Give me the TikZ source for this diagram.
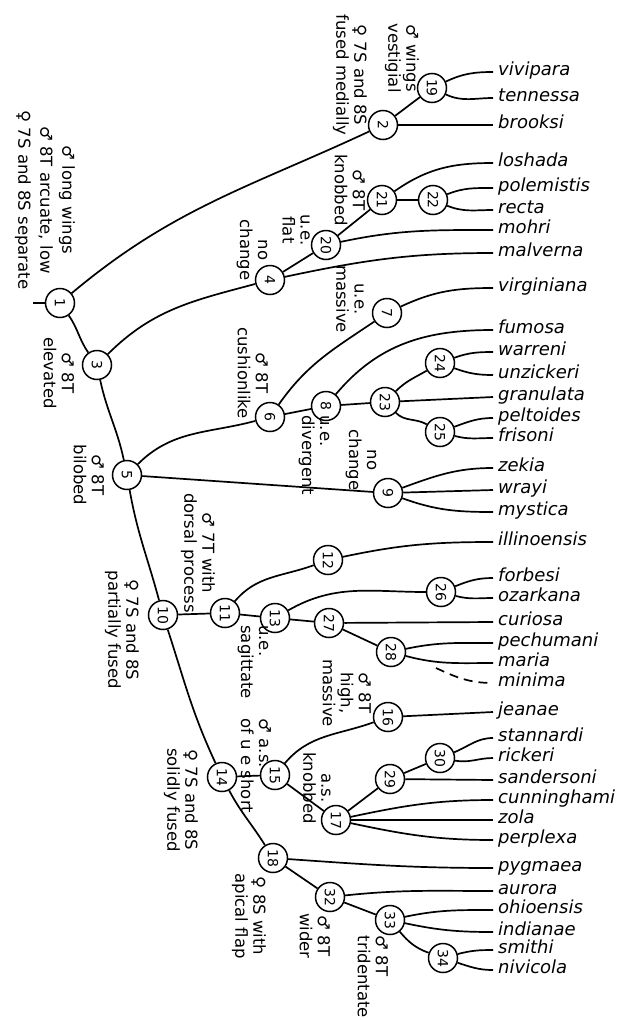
\documentclass[tikz,border=0pt]{standalone}
\usepackage{fontspec}
\setmainfont{DejaVu Sans}[ItalicFont={DejaVu Sans Oblique}]

% circle numbers read top to bottom, the circle itself stays unrotated
\newcommand{\rotnum}[1]{\rotatebox{-90}{#1}}

\begin{document}
\begin{tikzpicture}[
    x=1pt, y=1pt,
    taxon/.style  ={circle, draw=black, line width=1.5pt, fill=white,
                    minimum size=29pt, inner sep=0pt,
                    font=\fontsize{14}{14}\selectfont},
    leaf/.style   ={anchor=west, inner sep=5pt, text height=1.1ex, text depth=0pt,
                    font=\fontsize{18}{18}\selectfont\itshape},
    note/.style   ={rotate=-90, align=center, inner sep=0pt,
                    font=\fontsize{16.5}{18}\selectfont},
    branch/.style ={line width=1.7pt},
  ]

  % ---- frame of the page ----
  \useasboundingbox (0,0) rectangle (630,-1020);

  % ---- inner nodes of the tree ----
  \node[taxon] (n1)  at (60,-303)  {\rotnum{1}};
  \node[taxon] (n2)  at (383,-125) {\rotnum{2}};
  \node[taxon] (n3)  at (97,-365)  {\rotnum{3}};
  \node[taxon] (n4)  at (270,-280) {\rotnum{4}};
  \node[taxon] (n5)  at (127,-475) {\rotnum{5}};
  \node[taxon] (n6)  at (270,-417) {\rotnum{6}};
  \node[taxon] (n7)  at (387,-313) {\rotnum{7}};
  \node[taxon] (n8)  at (326,-406) {\rotnum{8}};
  \node[taxon] (n9)  at (388,-493) {\rotnum{9}};
  \node[taxon] (n10) at (163,-615) {\rotnum{10}};
  \node[taxon] (n11) at (225,-613) {\rotnum{11}};
  \node[taxon] (n12) at (328,-560) {\rotnum{12}};
  \node[taxon] (n13) at (275,-618) {\rotnum{13}};
  \node[taxon] (n14) at (222,-777) {\rotnum{14}};
  \node[taxon] (n15) at (275,-775) {\rotnum{15}};
  \node[taxon] (n16) at (388,-717) {\rotnum{16}};
  \node[taxon] (n17) at (336,-820) {\rotnum{17}};
  \node[taxon] (n18) at (273,-858) {\rotnum{18}};
  \node[taxon] (n19) at (432,-88)  {\rotnum{19}};
  \node[taxon] (n20) at (326,-245) {\rotnum{20}};
  \node[taxon] (n21) at (382,-200) {\rotnum{21}};
  \node[taxon] (n22) at (433,-200) {\rotnum{22}};
  \node[taxon] (n23) at (385,-402) {\rotnum{23}};
  \node[taxon] (n24) at (440,-363) {\rotnum{24}};
  \node[taxon] (n25) at (440,-432) {\rotnum{25}};
  \node[taxon] (n26) at (441,-592) {\rotnum{26}};
  \node[taxon] (n27) at (329,-623) {\rotnum{27}};
  \node[taxon] (n28) at (391,-652) {\rotnum{28}};
  \node[taxon] (n29) at (390,-779) {\rotnum{29}};
  \node[taxon] (n30) at (440,-758) {\rotnum{30}};
  \node[taxon] (n32) at (330,-897) {\rotnum{32}};
  \node[taxon] (n33) at (390,-920) {\rotnum{33}};
  \node[taxon] (n34) at (443,-958) {\rotnum{34}};

  \coordinate (root)  at (33,-303);
  \coordinate (mfork) at (436,-668);

  % ---- species (right column) ----
  \node[leaf] (vivipara)    at (493,-72)  {vivipara};
  \node[leaf] (tennessa)    at (493,-98)  {tennessa};
  \node[leaf] (brooksi)     at (493,-125) {brooksi};
  \node[leaf] (loshada)     at (493,-163) {loshada};
  \node[leaf] (polemistis)  at (493,-188) {polemistis};
  \node[leaf] (recta)       at (493,-210) {recta};
  \node[leaf] (mohri)       at (493,-230) {mohri};
  \node[leaf] (malverna)    at (493,-253) {malverna};
  \node[leaf] (virginiana)  at (493,-288) {virginiana};
  \node[leaf] (fumosa)      at (493,-330) {fumosa};
  \node[leaf] (warreni)     at (493,-352) {warreni};
  \node[leaf] (unzickeri)   at (493,-375) {unzickeri};
  \node[leaf] (granulata)   at (493,-397) {granulata};
  \node[leaf] (peltoides)   at (493,-418) {peltoides};
  \node[leaf] (frisoni)     at (493,-438) {frisoni};
  \node[leaf] (zekia)       at (493,-468) {zekia};
  \node[leaf] (wrayi)       at (493,-490) {wrayi};
  \node[leaf] (mystica)     at (493,-512) {mystica};
  \node[leaf] (illinoensis) at (493,-542) {illinoensis};
  \node[leaf] (forbesi)     at (493,-578) {forbesi};
  \node[leaf] (ozarkana)    at (493,-598) {ozarkana};
  \node[leaf] (curiosa)     at (493,-622) {curiosa};
  \node[leaf] (pechumani)   at (493,-643) {pechumani};
  \node[leaf] (maria)       at (493,-663) {maria};
  \node[leaf] (minima)      at (493,-683) {minima};
  \node[leaf] (jeanae)      at (493,-712) {jeanae};
  \node[leaf] (stannardi)   at (493,-738) {stannardi};
  \node[leaf] (rickeri)     at (493,-758) {rickeri};
  \node[leaf] (sandersoni)  at (493,-780) {sandersoni};
  \node[leaf] (cunninghami) at (493,-800) {cunninghami};
  \node[leaf] (zola)        at (493,-820) {zola};
  \node[leaf] (perplexa)    at (493,-840) {perplexa};
  \node[leaf] (pygmaea)     at (493,-868) {pygmaea};
  \node[leaf] (aurora)      at (493,-891) {aurora};
  \node[leaf] (ohioensis)   at (493,-910) {ohioensis};
  \node[leaf] (indianae)    at (493,-932) {indianae};
  \node[leaf] (smithi)      at (493,-950) {smithi};
  \node[leaf] (nivicola)    at (493,-970) {nivicola};

  % ---- branches between inner nodes ----
  \draw[branch] (root) -- (n1);
  \draw[branch] (n1)  to[out=40,in=205]   (n2);
  \draw[branch] (n1)  to[out=-55,in=125]  (n3);
  \draw[branch] (n3)  to[out=45,in=195]   (n4);
  \draw[branch] (n3)  to[out=-78,in=102]  (n5);
  \draw[branch] (n5)  to[out=45,in=195]   (n6);
  \draw[branch] (n5)  -- (n9);
  \draw[branch] (n5)  to[out=-80,in=105]  (n10);
  \draw[branch] (n2)  -- (n19);
  \draw[branch] (n4)  -- (n20);
  \draw[branch] (n20) -- (n21);
  \draw[branch] (n21) -- (n22);
  \draw[branch] (n6)  to[out=55,in=214]   (n7);
  \draw[branch] (n6)  -- (n8);
  \draw[branch] (n8)  -- (n23);
  \draw[branch] (n23) to[out=45,in=210]   (n24);
  \draw[branch] (n23) to[out=-45,in=150]  (n25);
  \draw[branch] (n10) -- (n11);
  \draw[branch] (n10) to[out=-72,in=115]  (n14);
  \draw[branch] (n11) to[out=50,in=200]   (n12);
  \draw[branch] (n11) -- (n13);
  \draw[branch] (n13) to[out=30,in=180]   (n26);
  \draw[branch] (n13) -- (n27);
  \draw[branch] (n27) -- (n28);
  \draw[branch] (n14) -- (n15);
  \draw[branch] (n14) to[out=-62,in=122]  (n18);
  \draw[branch] (n15) to[out=50,in=200]   (n16);
  \draw[branch] (n15) -- (n17);
  \draw[branch] (n17) -- (n29);
  \draw[branch] (n29) -- (n30);
  \draw[branch] (n18) -- (n32);
  \draw[branch] (n32) -- (n33);
  \draw[branch] (n33) to[out=-50,in=160]  (n34);

  % ---- branches out to the species ----
  \draw[branch] (n19) to[out=25,in=180]  (vivipara.west);
  \draw[branch] (n19) to[out=-25,in=180] (tennessa.west);
  \draw[branch] (n2)  -- (brooksi.west);
  \draw[branch] (n21) to[out=35,in=180]  (loshada.west);
  \draw[branch] (n22) to[out=22,in=180]  (polemistis.west);
  \draw[branch] (n22) to[out=-22,in=180] (recta.west);
  \draw[branch] (n20) to[out=12,in=180]  (mohri.west);
  \draw[branch] (n4)  to[out=12,in=180]  (malverna.west);
  \draw[branch] (n7)  to[out=25,in=180]  (virginiana.west);
  \draw[branch] (n8)  to[out=50,in=180]  (fumosa.west);
  \draw[branch] (n24) to[out=20,in=180]  (warreni.west);
  \draw[branch] (n24) to[out=-20,in=180] (unzickeri.west);
  \draw[branch] (n23) -- (granulata.west);
  \draw[branch] (n25) to[out=20,in=180]  (peltoides.west);
  \draw[branch] (n25) to[out=-15,in=180] (frisoni.west);
  \draw[branch] (n9)  to[out=20,in=180]  (zekia.west);
  \draw[branch] (n9)  -- (wrayi.west);
  \draw[branch] (n9)  to[out=-20,in=180] (mystica.west);
  \draw[branch] (n12) to[out=12,in=180]  (illinoensis.west);
  \draw[branch] (n26) to[out=22,in=180]  (forbesi.west);
  \draw[branch] (n26) to[out=-15,in=180] (ozarkana.west);
  \draw[branch] (n27) -- (curiosa.west);
  \draw[branch] (n28) to[out=12,in=180]  (pechumani.west);
  \draw[branch] (n28) to[out=-15,in=180] (maria.west);
  \draw[branch, dash pattern=on 9pt off 6pt] (mfork) to[out=-25,in=180] (minima.west);
  \draw[branch] (n16) -- (jeanae.west);
  \draw[branch] (n30) to[out=22,in=180]  (stannardi.west);
  \draw[branch] (n30) to[out=-10,in=180] (rickeri.west);
  \draw[branch] (n29) -- (sandersoni.west);
  \draw[branch] (n17) to[out=12,in=180]  (cunninghami.west);
  \draw[branch] (n17) -- (zola.west);
  \draw[branch] (n17) to[out=-12,in=180] (perplexa.west);
  \draw[branch] (n18) to[out=-4,in=180]  (pygmaea.west);
  \draw[branch] (n32) to[out=6,in=180]   (aurora.west);
  \draw[branch] (n33) to[out=12,in=180]  (ohioensis.west);
  \draw[branch] (n33) to[out=-12,in=180] (indianae.west);
  \draw[branch] (n34) to[out=15,in=180]  (smithi.west);
  \draw[branch] (n34) to[out=-18,in=180] (nivicola.west);

  % ---- characters along the branches (read top to bottom) ----
  \node[note, font=\fontsize{16.5}{22}\selectfont] (ch1) at (45,-200)
    {♂ long wings\\♂ 8T arcuate, low\\♀ 7S and 8S separate};
  \node[note] (ch2)  at (350,-75)  {♀ 7S and 8S\\fused medially};
  \node[note] (ch19) at (402,-58)  {♂ wings\\vestigial};
  \node[note] (ch21) at (350,-190) {♂ 8T\\knobbed};
  \node[note] (ch20) at (296,-230) {u.e.\\flat};
  \node[note] (ch4)  at (252,-250) {no\\change};
  \node[note] (ch7)  at (350,-299) {u.e.\\massive};
  \node[note] (ch3)  at (59,-373)  {♂ 8T\\elevated};
  \node[note] (ch6)  at (253,-373) {♂ 8T\\cushionlike};
  \node[note] (ch5)  at (89,-475)  {♂ 8T\\bilobed};
  \node[note, align=left] (ch8) at (314,-455) {u.e.\\divergent};
  \node[note] (ch9)  at (361,-460) {no\\change};
  \node[note] (ch11) at (198,-553) {♂ 7T with\\dorsal process};
  \node[note] (ch10) at (122,-630) {♀ 7S and 8S\\partially fused};
  \node[note, align=left] (ch13) at (253,-662) {u.e.\\sagittate};
  \node[note] (ch16) at (347,-693) {♂ 8T\\high,\\massive};
  \node[note, align=left] (ch15) at (256,-766) {♂ a.s.\\of u e short};
  \node[note] (ch17) at (317,-788) {a.s.\\knobbed};
  \node[note] (ch14) at (181,-800) {♀ 7S and 8S\\solidly fused};
  \node[note] (ch18) at (249,-916) {♀ 8S with\\apical flap};
  \node[note] (ch32) at (315,-936) {♂ 8T\\wider};
  \node[note, align=left] (ch33) at (373,-977) {♂ 8T\\tridentate};

\end{tikzpicture}
\end{document}
